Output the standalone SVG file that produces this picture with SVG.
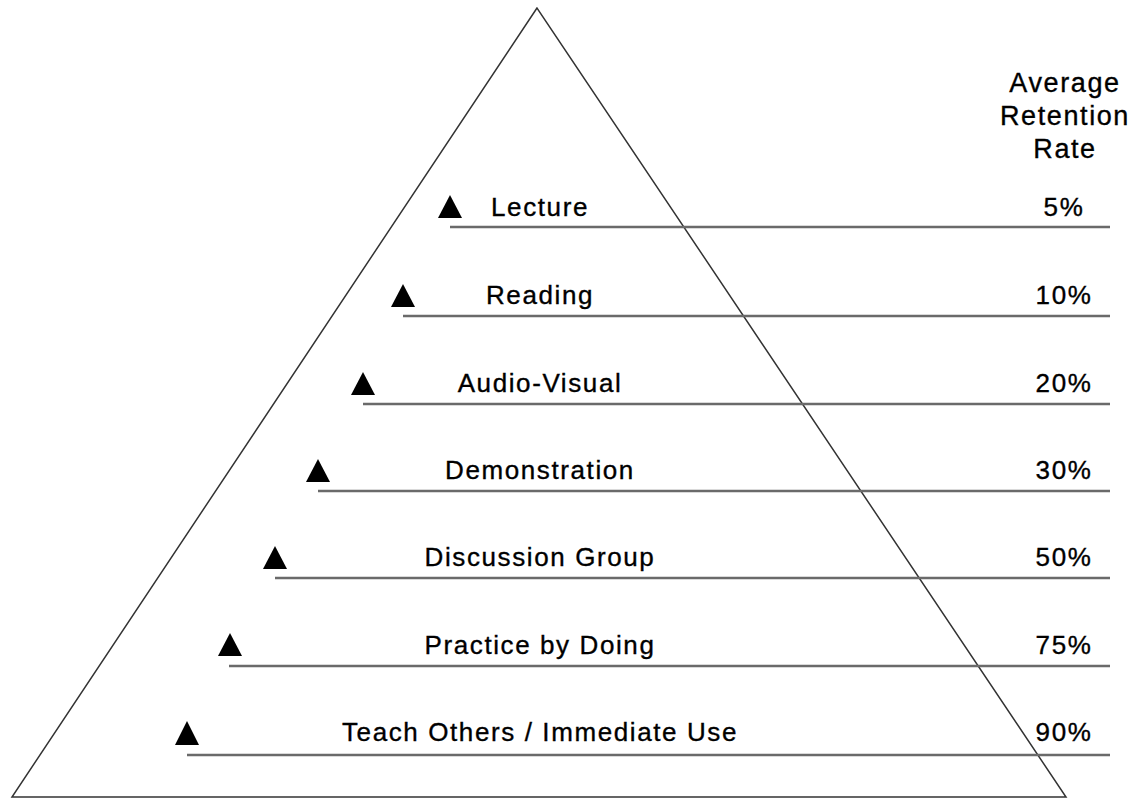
<svg xmlns="http://www.w3.org/2000/svg" width="1133" height="798" viewBox="0 0 1133 798">
<style>
  .lbl { font-family: "Liberation Sans", Arial, sans-serif; font-size: 26px; fill: #000; stroke: #000; stroke-width: 0.35px; letter-spacing: 1.6px; text-anchor: middle; }
  .hdr { font-family: "Liberation Sans", Arial, sans-serif; font-size: 27px; fill: #000; stroke: #000; stroke-width: 0.35px; letter-spacing: 1.6px; text-anchor: middle; }
  .row { stroke: #6a6a6a; stroke-width: 2.5; fill: none; }
  .mark { fill: #000; }
</style>
<rect width="1133" height="798" fill="#fff"/>
<g id="pyramid">
  <polygon points="537,8 12,797 1066,797" fill="none" stroke="#333" stroke-width="1.5"/>
</g>
<g id="header">
  <text class="hdr" x="1065" y="92">Average</text>
  <text class="hdr" x="1065" y="125">Retention</text>
  <text class="hdr" x="1065" y="158">Rate</text>
</g>
<g id="connectors">
  <line class="row" x1="450" y1="227" x2="1110" y2="227"/>
  <line class="row" x1="403" y1="316" x2="1110" y2="316"/>
  <line class="row" x1="363" y1="404" x2="1110" y2="404"/>
  <line class="row" x1="318" y1="491" x2="1110" y2="491"/>
  <line class="row" x1="275" y1="578" x2="1110" y2="578"/>
  <line class="row" x1="229" y1="666" x2="1110" y2="666"/>
  <line class="row" x1="187" y1="755" x2="1110" y2="755"/>
</g>
<g id="lecture">
  <polygon class="mark" points="450,195 462,218 438,218"/>
  <text class="lbl" x="540" y="216">Lecture</text>
  <text class="lbl" x="1064" y="216">5%</text>
</g>
<g id="reading">
  <polygon class="mark" points="403,284 415,307 391,307"/>
  <text class="lbl" x="540" y="304">Reading</text>
  <text class="lbl" x="1064" y="304">10%</text>
</g>
<g id="audio-visual">
  <polygon class="mark" points="363,372 375,395 351,395"/>
  <text class="lbl" x="540" y="392">Audio-Visual</text>
  <text class="lbl" x="1064" y="392">20%</text>
</g>
<g id="demonstration">
  <polygon class="mark" points="318,459 330,482 306,482"/>
  <text class="lbl" x="540" y="479">Demonstration</text>
  <text class="lbl" x="1064" y="479">30%</text>
</g>
<g id="discussion">
  <polygon class="mark" points="275,546 287,569 263,569"/>
  <text class="lbl" x="540" y="566">Discussion Group</text>
  <text class="lbl" x="1064" y="566">50%</text>
</g>
<g id="practice">
  <polygon class="mark" points="230,633 242,656 218,656"/>
  <text class="lbl" x="540" y="654">Practice by Doing</text>
  <text class="lbl" x="1064" y="654">75%</text>
</g>
<g id="teach">
  <polygon class="mark" points="187,721 199,745 175,745"/>
  <text class="lbl" x="540" y="741">Teach Others / Immediate Use</text>
  <text class="lbl" x="1064" y="741">90%</text>
</g>
</svg>
